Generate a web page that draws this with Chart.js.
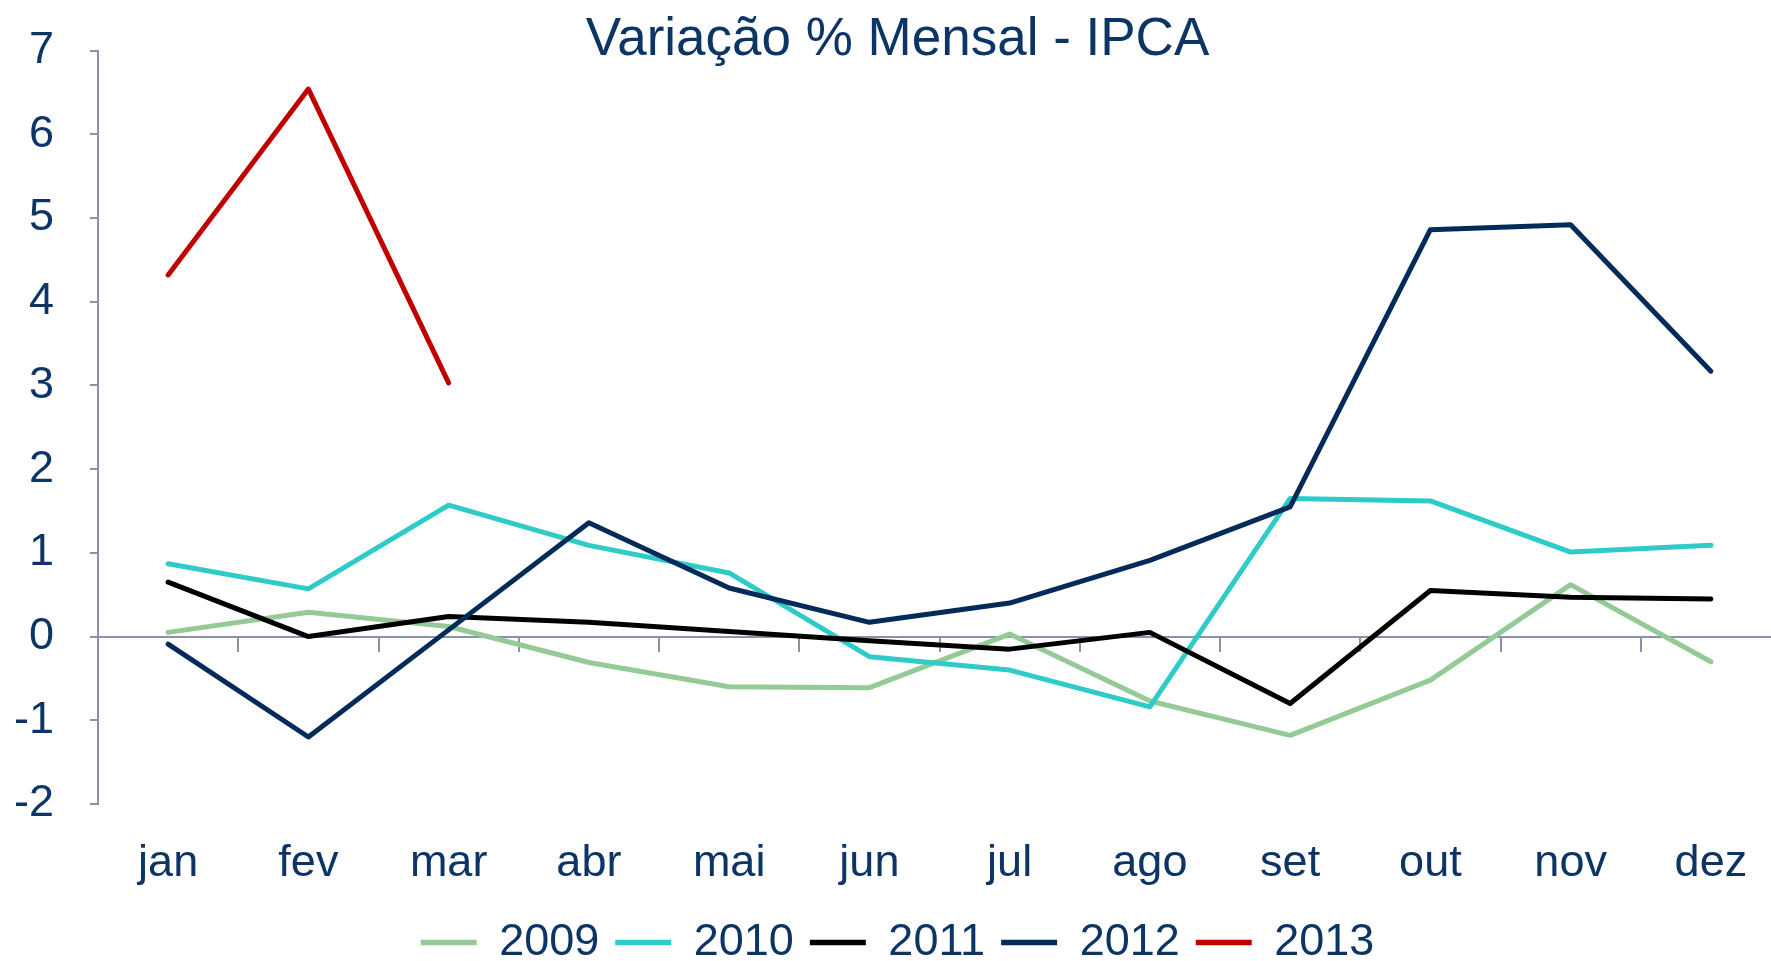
<!DOCTYPE html>
<html>
<head>
<meta charset="utf-8">
<title>Variação % Mensal - IPCA</title>
<script src="https://cdn.jsdelivr.net/npm/chart.js@4"></script>
<style>
  html, body { margin: 0; padding: 0; background: #ffffff; overflow: hidden; }
  #wrap { width: 1790px; height: 961px; }
</style>
</head>
<body>
<div id="wrap"><canvas id="ipcaChart" width="1790" height="961"></canvas></div>
<script>
// Months (categories)
const months = ["jan", "fev", "mar", "abr", "mai", "jun", "jul", "ago", "set", "out", "nov", "dez"];

// Monthly % variation per year
const y2009 = [0.05, 0.29, 0.12, -0.31, -0.60, -0.61, 0.03, -0.77, -1.18, -0.52, 0.62, -0.30];
const y2010 = [0.87, 0.57, 1.57, 1.09, 0.76, -0.24, -0.40, -0.84, 1.65, 1.62, 1.01, 1.09];
const y2011 = [0.65, 0.00, 0.24, 0.17, 0.06, -0.05, -0.15, 0.05, -0.80, 0.55, 0.47, 0.45];
const y2012 = [-0.09, -1.20, 0.08, 1.36, 0.58, 0.17, 0.40, 0.91, 1.55, 4.86, 4.92, 3.17];
const y2013 = [4.32, 6.54, 3.03];

const seriesNames = ["2009", "2010", "2011", "2012", "2013"];
const yTicks = [-2, -1, 0, 1, 2, 3, 4, 5, 6, 7];

// Colours
const textColor = "#0c3566";
const axisColor = "#8c91a6";
const lineColors = ["#93ca95", "#2ecbc9", "#000000", "#032b5a", "#c00000"];

const font = "'Liberation Sans', Arial, sans-serif";

function makeLine(label, data, i) {
  return {
    label: label,
    data: data,
    borderColor: lineColors[i],
    backgroundColor: lineColors[i],
    borderWidth: 5,
    borderCapStyle: "round",
    borderJoinStyle: "round",
    pointRadius: 0,
    tension: 0,
    fill: false,
    order: 5 - i
  };
}

const ctx = document.getElementById("ipcaChart").getContext("2d");

new Chart(ctx, {
  type: "line",
  data: {
    labels: months,
    datasets: [
      makeLine(seriesNames[0], y2009, 0),
      makeLine(seriesNames[1], y2010, 1),
      makeLine(seriesNames[2], y2011, 2),
      makeLine(seriesNames[3], y2012, 3),
      makeLine(seriesNames[4], y2013, 4)
    ]
  },
  options: {
    responsive: false,
    animation: false,
    devicePixelRatio: 1,
    layout: {
      padding: { left: 14, right: 9, top: 0, bottom: -14 }
    },
    plugins: {
      tooltip: { enabled: false },
      title: {
        display: true,
        text: "Variação % Mensal - IPCA",
        color: textColor,
        font: { family: font, size: 53, weight: "normal", lineHeight: 1.2 },
        padding: { top: 9, bottom: -22 }
      },
      legend: {
        display: true,
        position: "bottom",
        labels: {
          color: textColor,
          font: { family: font, size: 45 },
          boxWidth: 56,
          boxHeight: 5.5,
          padding: 16,
          generateLabels: chart => chart.data.datasets.map((ds, i) => ({
            text: ds.label,
            fillStyle: ds.borderColor,
            strokeStyle: ds.borderColor,
            lineWidth: 0,
            fontColor: textColor,
            hidden: false,
            datasetIndex: i
          }))
        }
      }
    },
    scales: {
      x: {
        type: "category",
        offset: true,
        position: "bottom",
        border: { display: false },
        grid: { display: false, drawTicks: false },
        ticks: {
          color: textColor,
          font: { family: font, size: 45, lineHeight: 0.956 },
          padding: 38.5,
          maxRotation: 0,
          autoSkip: false
        },
        // month labels sit low, legend right under them
        afterFit: scale => { scale.height = 100; }
      },
      x2: {
        axis: "x",
        type: "category",
        offset: true,
        position: { y: 0 },
        border: { display: true, color: axisColor, width: 2 },
        grid: {
          offset: true,
          drawOnChartArea: false,
          drawTicks: true,
          tickLength: 14,
          color: axisColor,
          lineWidth: 2
        },
        ticks: { display: false }
      },
      y: {
        min: yTicks[0],
        max: yTicks[yTicks.length - 1],
        afterBuildTicks: axis => { axis.ticks = yTicks.map(v => ({ value: v })); },
        border: { display: true, color: axisColor, width: 2 },
        grid: {
          drawOnChartArea: false,
          drawTicks: true,
          tickLength: 44,
          tickBorderDash: [8, 36],
          tickBorderDashOffset: 8,
          color: axisColor,
          lineWidth: 2
        },
        ticks: {
          color: textColor,
          font: { family: font, size: 45 },
          padding: 0
        }
      }
    }
  }
});
</script>
</body>
</html>
